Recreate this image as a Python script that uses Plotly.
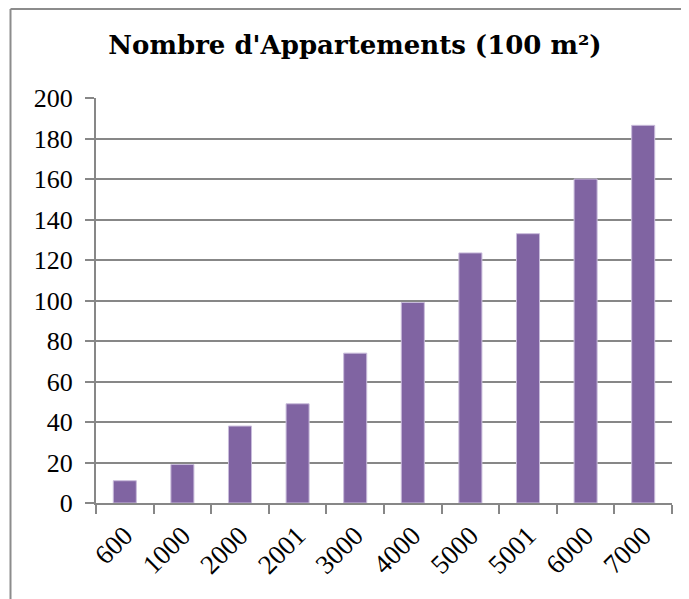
import plotly.graph_objects as go

categories = ["600", "1000", "2000", "2001", "3000", "4000", "5000", "5001", "6000", "7000"]
values = [11, 19, 38, 49, 74, 99, 123.5, 133, 160, 186.5]
y_ticks = [0, 20, 40, 60, 80, 100, 120, 140, 160, 180, 200]

FONT = "Liberation Serif"
TFONT = "DejaVu Serif"
GRID = "#878787"

fig = go.Figure(
    go.Bar(
        x=categories,
        y=values,
        marker=dict(color="#8064A2", line=dict(color="#C9BCDB", width=1)),
        width=0.4,
    )
)

# page has an 8px body margin; figure coordinates are page - 8
OFF = 8
W, H = 689 - OFF, 599 - OFF
L, T = 96 - OFF, 98 - OFF
R = W - (672 - OFF)
B = H - (503 - OFF)
pw, ph = W - L - R, H - T - B

def px_x(px):
    return (px - OFF - L) / pw

def px_y(py):
    return (H - B - (py - OFF)) / ph

fig.update_layout(
    width=W,
    height=H,
    margin=dict(l=L, r=R, t=T, b=B),
    paper_bgcolor="white",
    plot_bgcolor="white",
    showlegend=False,
    title=dict(
        text="<b>Nombre d'Appartements (100 m²)</b>",
        x=(355 - OFF) / W,
        xanchor="center",
        xref="container",
        y=1 - (45 - OFF) / H,
        yanchor="middle",
        font=dict(family=TFONT, size=26, color="black"),
    ),
    font=dict(family=FONT, color="black"),
    xaxis=dict(
        type="category",
        tickangle=-45,
        tickson="boundaries",
        ticks="outside",
        ticklen=9,
        tickwidth=2,
        tickcolor=GRID,
        showline=True,
        linecolor=GRID,
        linewidth=2,
        showgrid=False,
        ticklabelstandoff=4,
        tickfont=dict(family=FONT, size=27, color="black"),
        range=[-0.5, 9.5],
    ),
    yaxis=dict(
        range=[0, 200],
        tickvals=y_ticks,
        ticks="outside",
        ticklen=9,
        tickwidth=2,
        tickcolor=GRID,
        showline=True,
        linecolor=GRID,
        linewidth=2,
        showgrid=True,
        gridcolor=GRID,
        gridwidth=2,
        zeroline=False,
        ticklabelstandoff=7,
        tickfont=dict(family=FONT, size=26, color="black"),
    ),
    shapes=[
        dict(
            type="line", xref="paper", yref="paper",
            x0=px_x(10.5), x1=px_x(700), y0=px_y(9), y1=px_y(9),
            line=dict(color="#8c8c8c", width=2),
        ),
        dict(
            type="line", xref="paper", yref="paper",
            x0=px_x(10.5), x1=px_x(10.5), y0=px_y(9), y1=px_y(620),
            line=dict(color="#8c8c8c", width=2),
        ),
    ],
)

fig.write_html("out.html")
